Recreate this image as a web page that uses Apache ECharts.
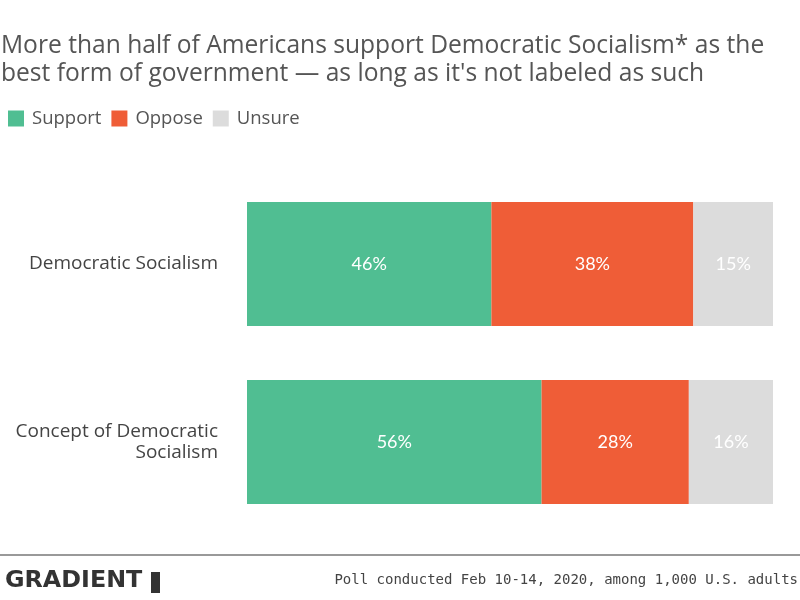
<!DOCTYPE html>
<html><head><meta charset="utf-8">
<script src="https://cdn.jsdelivr.net/npm/echarts@6/dist/echarts.min.js"></script>
<style>html,body{margin:0;padding:0;background:#fff}#c{width:800px;height:600px}</style>
</head><body><div id="c"></div>
<script>
const categories = ["Democratic Socialism", "Concept of Democratic\nSocialism"];
const support = [46, 56];
const oppose = [38, 28];
const unsure = [15, 16];
const seriesNames = ["Support", "Oppose", "Unsure"];
const colors = ["#50BE92", "#EF5D37", "#DCDCDC"];

const raw = [support, oppose, unsure];
const totals = categories.map((_, i) => support[i] + oppose[i] + unsure[i]);

const chart = echarts.init(document.getElementById('c'), null, {renderer: 'canvas'});
chart.setOption({
  animation: false,
  title: {
    text: "More than half of Americans support Democratic Socialism* as the\nbest form of government \u2014 as long as it's not labeled as such",
    left: 1, top: 32, padding: [0, 0, 0, 0],
    textStyle: {fontFamily: 'Open Sans', fontWeight: 'normal', fontSize: 24.6, color: '#555', lineHeight: 28}
  },
  legend: {
    left: 8, top: 109, padding: 0, icon: 'rect', itemWidth: 16, itemHeight: 16, itemGap: 10,
    textStyle: {fontFamily: 'Open Sans', fontSize: 18.5, color: '#555', padding: [0, 0, 0, 3]},
    data: seriesNames
  },
  grid: {left: 247, right: 27, top: 175, height: 356, containLabel: false},
  xAxis: {type: 'value', min: 0, max: 100, show: false},
  yAxis: {
    type: 'category', data: categories, inverse: true,
    axisLine: {show: false}, axisTick: {show: false},
    axisLabel: {fontFamily: 'Open Sans', fontSize: 19, color: '#444', margin: 29, align: 'right', lineHeight: 21}
  },
  series: raw.map((arr, k) => ({
    name: seriesNames[k], type: 'bar', stack: 'total', barWidth: 124,
    itemStyle: {color: colors[k]},
    data: arr.map((v, i) => v / totals[i] * 100),
    label: {
      show: true, position: 'inside', color: '#fff', fontFamily: 'Lato', fontSize: 18,
      formatter: p => arr[p.dataIndex] + '%'
    }
  })),
  graphic: [
    {type: 'line', shape: {x1: 0, y1: 555, x2: 800, y2: 555}, style: {stroke: '#777', lineWidth: 1.5}},
    {type: 'text', x: 5, y: 570, scaleX: 1.15, style: {text: 'GRADIENT', font: 'bold 23px "DejaVu Sans Condensed"', fill: '#333'}},
    {type: 'rect', shape: {x: 151, y: 572, width: 9, height: 21}, style: {fill: '#333'}},
    {type: 'text', right: 2, top: 573, style: {text: 'Poll conducted Feb 10-14, 2020, among 1,000 U.S. adults', font: '14px "DejaVu Sans Mono"', fill: '#444'}}
  ]
});
</script></body></html>
